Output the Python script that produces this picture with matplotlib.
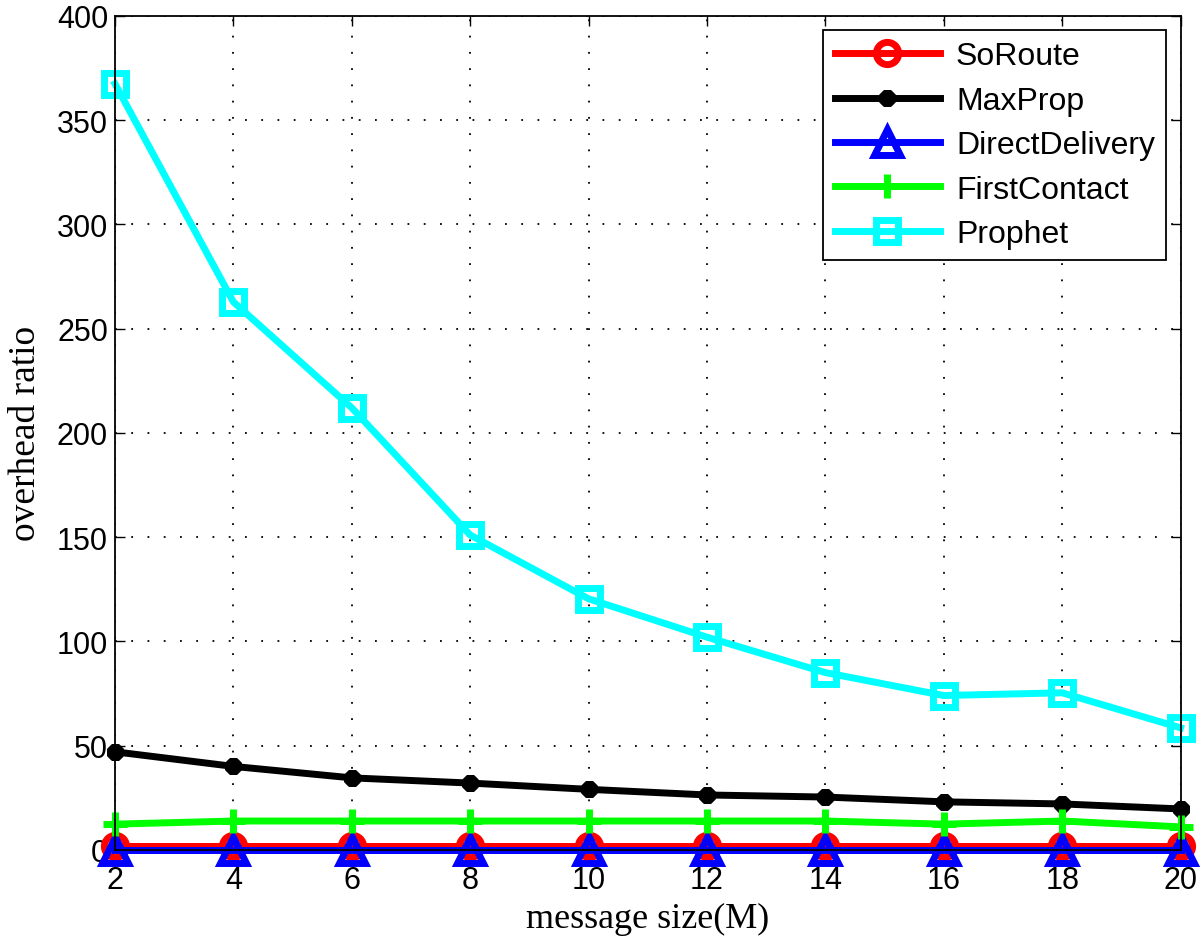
import matplotlib
matplotlib.use("Agg")
import matplotlib.pyplot as plt

# message size (M)
sizes = [2, 4, 6, 8, 10, 12, 14, 16, 18, 20]

soroute = [2, 2, 2, 2, 2, 2, 2, 2, 2, 2]
maxprop = [47, 40, 34.5, 32, 29, 26.3, 25.3, 23, 22, 19.6]
direct_delivery = [0, 0, 0, 0, 0, 0, 0, 0, 0, 0]
first_contact = [12.3, 13.8, 13.8, 13.8, 13.8, 13.8, 13.8, 12.3, 13.8, 11]
prophet = [367.4, 262.8, 212, 151, 120.4, 102, 85, 74, 75.3, 58.5]

series = [
    ("SoRoute", soroute, "#ff0000", "o"),
    ("MaxProp", maxprop, "#000000", "*"),
    ("DirectDelivery", direct_delivery, "#0000ff", "^"),
    ("FirstContact", first_contact, "#00ff00", "+"),
    ("Prophet", prophet, "#00ffff", "s"),
]

fig = plt.figure(figsize=(12, 9.37), dpi=100)
ax = fig.add_axes([0.0958, 0.092, 0.888, 0.89])

for name, vals, color, marker in series:
    if marker == "*":
        ax.plot(sizes, vals, color=color, lw=5, marker=(8, 2, 0), ms=12,
                mew=4.5, mec=color, label=name, clip_on=False)
    elif marker == "+":
        ax.plot(sizes, vals, color=color, lw=5, marker="+", ms=17,
                mew=5, label=name, clip_on=False)
    elif marker == "^":
        ax.plot(sizes, vals, color=color, lw=5, marker="^", ms=19,
                mfc="none", mec=color, mew=5, label=name, clip_on=False)
    else:
        ax.plot(sizes, vals, color=color, lw=5, marker=marker, ms=16,
                mfc="none", mec=color, mew=5, label=name, clip_on=False)

ax.set_xlim(2, 20)
ax.set_ylim(0, 400)
ax.set_xticks(sizes)
ax.set_yticks(range(0, 401, 50))
ax.grid(True, color="black", linestyle=(0, (1, 8)), linewidth=1.3)
ax.tick_params(direction="in", top=True, right=True, length=7, width=1,
               labelsize=22)
ax.tick_params(axis="x", pad=11)
ax.tick_params(axis="y", pad=5)
for lab in ax.get_xticklabels() + ax.get_yticklabels():
    lab.set_family("Liberation Sans")
for sp in ax.spines.values():
    sp.set_linewidth(1.3)

ax.set_xlabel("message size(M)", family="Liberation Serif", fontsize=26, labelpad=5)
ax.set_ylabel("overhead ratio", family="Liberation Serif", fontsize=27, labelpad=10)

leg = ax.legend(loc="upper right", prop={"family": "Liberation Sans", "size": 23},
                frameon=True, fancybox=False, edgecolor="black", framealpha=1,
                handlelength=3.3, handletextpad=0.5, borderaxespad=0.45,
                borderpad=0.35, labelspacing=0.45)
leg.get_frame().set_linewidth(1.3)

fig.savefig("out.png", dpi=100)
